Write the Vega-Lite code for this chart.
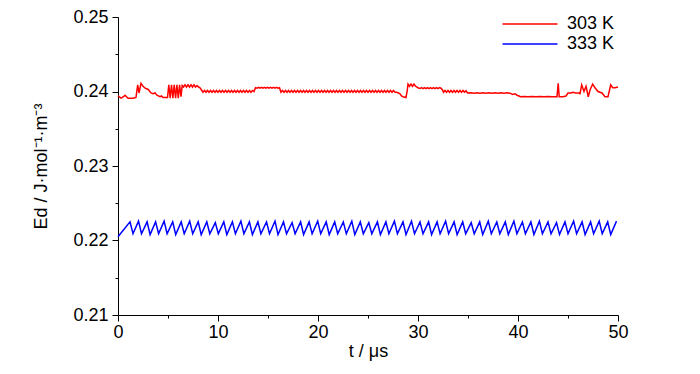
{
  "$schema": "https://vega.github.io/schema/vega-lite/v6.json",
  "width": 500,
  "height": 298,
  "autosize": {"type": "none"},
  "padding": {"left": 118, "top": 17, "right": 82, "bottom": 59},
  "background": "white",
  "config": {
    "view": {"stroke": null},
    "font": "Liberation Sans",
    "axis": {"grid": false, "domainColor": "black", "tickColor": "black", "labelColor": "black", "titleColor": "black", "labelFont": "Liberation Sans", "titleFont": "Liberation Sans", "labelFontSize": 18, "titleFontSize": 18, "titleFontWeight": "normal", "domainWidth": 1, "tickWidth": 1}
  },
  "data": {"values": [
    {"s":"303 K","t":0.00,"e":0.2394},{"s":"303 K","t":0.30,"e":0.2391},{"s":"303 K","t":0.55,"e":0.2393},{"s":"303 K","t":0.70,"e":0.2395},{"s":"303 K","t":1.00,"e":0.2391},{"s":"303 K","t":1.50,"e":0.2391},{"s":"303 K","t":1.80,"e":0.2392},{"s":"303 K","t":1.97,"e":0.2409},{"s":"303 K","t":2.10,"e":0.2398},{"s":"303 K","t":2.30,"e":0.2411},{"s":"303 K","t":2.50,"e":0.2407},{"s":"303 K","t":2.77,"e":0.2404},{"s":"303 K","t":3.00,"e":0.2403},{"s":"303 K","t":3.30,"e":0.2398},{"s":"303 K","t":3.50,"e":0.2397},{"s":"303 K","t":3.70,"e":0.2398},{"s":"303 K","t":3.90,"e":0.2395},{"s":"303 K","t":4.20,"e":0.2393},{"s":"303 K","t":4.35,"e":0.2394},{"s":"303 K","t":4.50,"e":0.2392},{"s":"303 K","t":4.87,"e":0.2392},
    {"s":"303 K","t":4.95,"e":0.2392},{"s":"303 K","t":5.08,"e":0.2409},{"s":"303 K","t":5.22,"e":0.2391},{"s":"303 K","t":5.35,"e":0.2409},{"s":"303 K","t":5.49,"e":0.2391},{"s":"303 K","t":5.62,"e":0.2409},{"s":"303 K","t":5.76,"e":0.2391},{"s":"303 K","t":5.89,"e":0.2409},{"s":"303 K","t":6.03,"e":0.2391},{"s":"303 K","t":6.16,"e":0.2409},{"s":"303 K","t":6.30,"e":0.2393},{"s":"303 K","t":6.42,"e":0.2408},
    {"s":"303 K","t":6.55,"e":0.2406},{"s":"303 K","t":6.70,"e":0.2409},{"s":"303 K","t":6.85,"e":0.2406},{"s":"303 K","t":7.00,"e":0.2409},{"s":"303 K","t":7.15,"e":0.2406},{"s":"303 K","t":7.30,"e":0.2409},{"s":"303 K","t":7.45,"e":0.2406},{"s":"303 K","t":7.60,"e":0.2409},{"s":"303 K","t":7.75,"e":0.2406},{"s":"303 K","t":7.90,"e":0.2408},{"s":"303 K","t":8.05,"e":0.2406},{"s":"303 K","t":8.20,"e":0.2405},{"s":"303 K","t":8.35,"e":0.2402},
    {"s":"303 K","t":8.50,"e":0.2399},{"s":"303 K","t":8.65,"e":0.24014},{"s":"303 K","t":8.80,"e":0.2399},{"s":"303 K","t":8.95,"e":0.24014},{"s":"303 K","t":9.10,"e":0.2399},{"s":"303 K","t":9.25,"e":0.24014},{"s":"303 K","t":9.40,"e":0.2399},{"s":"303 K","t":9.55,"e":0.24014},{"s":"303 K","t":9.70,"e":0.2399},{"s":"303 K","t":9.85,"e":0.24014},{"s":"303 K","t":10.00,"e":0.2399},{"s":"303 K","t":10.15,"e":0.24014},{"s":"303 K","t":10.30,"e":0.2399},{"s":"303 K","t":10.45,"e":0.24014},{"s":"303 K","t":10.60,"e":0.2399},{"s":"303 K","t":10.75,"e":0.24014},{"s":"303 K","t":10.90,"e":0.2399},{"s":"303 K","t":11.05,"e":0.24014},{"s":"303 K","t":11.20,"e":0.2399},{"s":"303 K","t":11.35,"e":0.24014},{"s":"303 K","t":11.50,"e":0.2399},{"s":"303 K","t":11.65,"e":0.24014},{"s":"303 K","t":11.80,"e":0.2399},{"s":"303 K","t":11.95,"e":0.24014},{"s":"303 K","t":12.10,"e":0.2399},{"s":"303 K","t":12.25,"e":0.24014},{"s":"303 K","t":12.40,"e":0.2399},{"s":"303 K","t":12.55,"e":0.24014},{"s":"303 K","t":12.70,"e":0.2399},{"s":"303 K","t":12.85,"e":0.24014},{"s":"303 K","t":13.00,"e":0.2399},{"s":"303 K","t":13.15,"e":0.24014},{"s":"303 K","t":13.30,"e":0.2399},{"s":"303 K","t":13.45,"e":0.24014},{"s":"303 K","t":13.60,"e":0.2400},
    {"s":"303 K","t":13.75,"e":0.24050},{"s":"303 K","t":13.90,"e":0.24044},{"s":"303 K","t":14.05,"e":0.24056},{"s":"303 K","t":14.20,"e":0.24044},{"s":"303 K","t":14.35,"e":0.24056},{"s":"303 K","t":14.50,"e":0.24044},{"s":"303 K","t":14.65,"e":0.24056},{"s":"303 K","t":14.80,"e":0.24044},{"s":"303 K","t":14.95,"e":0.24056},{"s":"303 K","t":15.10,"e":0.24044},{"s":"303 K","t":15.25,"e":0.24056},{"s":"303 K","t":15.40,"e":0.24044},{"s":"303 K","t":15.55,"e":0.24056},{"s":"303 K","t":15.70,"e":0.24044},{"s":"303 K","t":15.85,"e":0.24056},{"s":"303 K","t":16.00,"e":0.24044},{"s":"303 K","t":16.15,"e":0.24050},
    {"s":"303 K","t":16.30,"e":0.2399},{"s":"303 K","t":16.45,"e":0.24014},{"s":"303 K","t":16.60,"e":0.2399},{"s":"303 K","t":16.75,"e":0.24014},{"s":"303 K","t":16.90,"e":0.2399},{"s":"303 K","t":17.05,"e":0.24014},{"s":"303 K","t":17.20,"e":0.2399},{"s":"303 K","t":17.35,"e":0.24014},{"s":"303 K","t":17.50,"e":0.2399},{"s":"303 K","t":17.65,"e":0.24014},{"s":"303 K","t":17.80,"e":0.2399},{"s":"303 K","t":17.95,"e":0.24014},{"s":"303 K","t":18.10,"e":0.2399},{"s":"303 K","t":18.25,"e":0.24014},{"s":"303 K","t":18.40,"e":0.2399},{"s":"303 K","t":18.55,"e":0.24014},{"s":"303 K","t":18.70,"e":0.2399},{"s":"303 K","t":18.85,"e":0.24014},{"s":"303 K","t":19.00,"e":0.2399},{"s":"303 K","t":19.15,"e":0.24014},{"s":"303 K","t":19.30,"e":0.2399},{"s":"303 K","t":19.45,"e":0.24014},{"s":"303 K","t":19.60,"e":0.2399},{"s":"303 K","t":19.75,"e":0.24014},{"s":"303 K","t":19.90,"e":0.2399},{"s":"303 K","t":20.05,"e":0.24014},{"s":"303 K","t":20.20,"e":0.2399},{"s":"303 K","t":20.35,"e":0.24014},{"s":"303 K","t":20.50,"e":0.2399},{"s":"303 K","t":20.65,"e":0.24014},{"s":"303 K","t":20.80,"e":0.2399},{"s":"303 K","t":20.95,"e":0.24014},{"s":"303 K","t":21.10,"e":0.2399},{"s":"303 K","t":21.25,"e":0.24014},{"s":"303 K","t":21.40,"e":0.2399},{"s":"303 K","t":21.55,"e":0.24014},{"s":"303 K","t":21.70,"e":0.2399},{"s":"303 K","t":21.85,"e":0.24014},{"s":"303 K","t":22.00,"e":0.2399},{"s":"303 K","t":22.15,"e":0.24014},{"s":"303 K","t":22.30,"e":0.2399},{"s":"303 K","t":22.45,"e":0.24014},{"s":"303 K","t":22.60,"e":0.2399},{"s":"303 K","t":22.75,"e":0.24014},{"s":"303 K","t":22.90,"e":0.2399},{"s":"303 K","t":23.05,"e":0.24014},{"s":"303 K","t":23.20,"e":0.2399},{"s":"303 K","t":23.35,"e":0.24014},{"s":"303 K","t":23.50,"e":0.2399},{"s":"303 K","t":23.65,"e":0.24014},{"s":"303 K","t":23.80,"e":0.2399},{"s":"303 K","t":23.95,"e":0.24014},{"s":"303 K","t":24.10,"e":0.2399},{"s":"303 K","t":24.25,"e":0.24014},{"s":"303 K","t":24.40,"e":0.2399},{"s":"303 K","t":24.55,"e":0.24014},{"s":"303 K","t":24.70,"e":0.2399},{"s":"303 K","t":24.85,"e":0.24014},{"s":"303 K","t":25.00,"e":0.2399},{"s":"303 K","t":25.15,"e":0.24014},{"s":"303 K","t":25.30,"e":0.2399},{"s":"303 K","t":25.45,"e":0.24014},{"s":"303 K","t":25.60,"e":0.2399},{"s":"303 K","t":25.75,"e":0.24014},{"s":"303 K","t":25.90,"e":0.2399},{"s":"303 K","t":26.05,"e":0.24014},{"s":"303 K","t":26.20,"e":0.2399},{"s":"303 K","t":26.35,"e":0.24014},{"s":"303 K","t":26.50,"e":0.2399},{"s":"303 K","t":26.65,"e":0.24014},{"s":"303 K","t":26.80,"e":0.2399},{"s":"303 K","t":26.95,"e":0.24014},{"s":"303 K","t":27.10,"e":0.2399},{"s":"303 K","t":27.25,"e":0.24014},{"s":"303 K","t":27.40,"e":0.2399},{"s":"303 K","t":27.55,"e":0.24014},{"s":"303 K","t":27.70,"e":0.2399},
    {"s":"303 K","t":27.85,"e":0.2399},{"s":"303 K","t":28.05,"e":0.2398},{"s":"303 K","t":28.20,"e":0.2397},{"s":"303 K","t":28.35,"e":0.2394},{"s":"303 K","t":28.50,"e":0.2393},{"s":"303 K","t":28.80,"e":0.2392},{"s":"303 K","t":28.92,"e":0.2401},{"s":"303 K","t":29.00,"e":0.2410},{"s":"303 K","t":29.15,"e":0.2407},{"s":"303 K","t":29.30,"e":0.2410},{"s":"303 K","t":29.45,"e":0.2407},{"s":"303 K","t":29.60,"e":0.2410},{"s":"303 K","t":29.75,"e":0.2407},{"s":"303 K","t":29.90,"e":0.2406},
    {"s":"303 K","t":30.05,"e":0.24046},{"s":"303 K","t":30.20,"e":0.24040},{"s":"303 K","t":30.35,"e":0.24052},{"s":"303 K","t":30.50,"e":0.24040},{"s":"303 K","t":30.65,"e":0.24052},{"s":"303 K","t":30.80,"e":0.24040},{"s":"303 K","t":30.95,"e":0.24052},{"s":"303 K","t":31.10,"e":0.24040},{"s":"303 K","t":31.25,"e":0.24052},{"s":"303 K","t":31.40,"e":0.24040},{"s":"303 K","t":31.55,"e":0.24052},{"s":"303 K","t":31.70,"e":0.24040},{"s":"303 K","t":31.85,"e":0.24052},{"s":"303 K","t":32.00,"e":0.24040},{"s":"303 K","t":32.15,"e":0.24052},{"s":"303 K","t":32.30,"e":0.24044},{"s":"303 K","t":32.45,"e":0.2402},
    {"s":"303 K","t":32.55,"e":0.2399},{"s":"303 K","t":32.70,"e":0.24014},{"s":"303 K","t":32.85,"e":0.2399},{"s":"303 K","t":33.00,"e":0.24014},{"s":"303 K","t":33.15,"e":0.2399},{"s":"303 K","t":33.30,"e":0.24014},{"s":"303 K","t":33.45,"e":0.2399},{"s":"303 K","t":33.60,"e":0.24014},{"s":"303 K","t":33.75,"e":0.2399},{"s":"303 K","t":33.90,"e":0.24014},{"s":"303 K","t":34.05,"e":0.2399},{"s":"303 K","t":34.20,"e":0.24014},{"s":"303 K","t":34.35,"e":0.2399},{"s":"303 K","t":34.50,"e":0.24014},{"s":"303 K","t":34.65,"e":0.2399},{"s":"303 K","t":34.80,"e":0.24010},{"s":"303 K","t":34.95,"e":0.2398},
    {"s":"303 K","t":35.30,"e":0.23983},{"s":"303 K","t":35.60,"e":0.23977},{"s":"303 K","t":35.90,"e":0.23983},{"s":"303 K","t":36.20,"e":0.23977},{"s":"303 K","t":36.50,"e":0.23983},{"s":"303 K","t":36.80,"e":0.23977},{"s":"303 K","t":37.10,"e":0.23983},{"s":"303 K","t":37.40,"e":0.23977},{"s":"303 K","t":37.70,"e":0.23983},{"s":"303 K","t":38.00,"e":0.23977},{"s":"303 K","t":38.30,"e":0.23983},{"s":"303 K","t":38.60,"e":0.23977},{"s":"303 K","t":38.90,"e":0.23983},{"s":"303 K","t":39.20,"e":0.23978},
    {"s":"303 K","t":39.45,"e":0.2396},{"s":"303 K","t":39.70,"e":0.2397},{"s":"303 K","t":39.90,"e":0.2395},{"s":"303 K","t":40.10,"e":0.2394},{"s":"303 K","t":40.25,"e":0.2393},
    {"s":"303 K","t":40.60,"e":0.23932},{"s":"303 K","t":41.00,"e":0.23928},{"s":"303 K","t":41.40,"e":0.23932},{"s":"303 K","t":41.80,"e":0.23928},{"s":"303 K","t":42.20,"e":0.23932},{"s":"303 K","t":42.60,"e":0.23928},{"s":"303 K","t":43.00,"e":0.23932},{"s":"303 K","t":43.40,"e":0.23928},{"s":"303 K","t":43.90,"e":0.2393},
    {"s":"303 K","t":44.02,"e":0.2411},{"s":"303 K","t":44.12,"e":0.2393},{"s":"303 K","t":44.50,"e":0.2393},{"s":"303 K","t":44.80,"e":0.2394},{"s":"303 K","t":45.00,"e":0.2398},{"s":"303 K","t":45.30,"e":0.2398},{"s":"303 K","t":45.50,"e":0.2399},{"s":"303 K","t":45.75,"e":0.2398},{"s":"303 K","t":46.05,"e":0.2398},{"s":"303 K","t":46.20,"e":0.2397},{"s":"303 K","t":46.37,"e":0.2409},{"s":"303 K","t":46.60,"e":0.2400},{"s":"303 K","t":46.80,"e":0.2407},{"s":"303 K","t":47.03,"e":0.2393},{"s":"303 K","t":47.20,"e":0.2402},{"s":"303 K","t":47.47,"e":0.2410},{"s":"303 K","t":47.70,"e":0.2405},{"s":"303 K","t":48.00,"e":0.2400},{"s":"303 K","t":48.40,"e":0.2398},{"s":"303 K","t":48.70,"e":0.2393},{"s":"303 K","t":49.00,"e":0.2393},{"s":"303 K","t":49.27,"e":0.2409},{"s":"303 K","t":49.47,"e":0.2405},{"s":"303 K","t":49.70,"e":0.2405},{"s":"303 K","t":50.00,"e":0.2406},
    {"s":"333 K","t":0.00,"e":0.2205},{"s":"333 K","t":1.20,"e":0.2225},{"s":"333 K","t":1.50,"e":0.2209},{"s":"333 K","t":2.05,"e":0.2226},{"s":"333 K","t":2.35,"e":0.2209},{"s":"333 K","t":2.91,"e":0.2225},{"s":"333 K","t":3.21,"e":0.2208},{"s":"333 K","t":3.76,"e":0.2225},{"s":"333 K","t":4.06,"e":0.2209},{"s":"333 K","t":4.61,"e":0.2226},{"s":"333 K","t":4.91,"e":0.2209},{"s":"333 K","t":5.47,"e":0.2225},{"s":"333 K","t":5.77,"e":0.2208},{"s":"333 K","t":6.32,"e":0.2225},{"s":"333 K","t":6.62,"e":0.2209},{"s":"333 K","t":7.17,"e":0.2226},{"s":"333 K","t":7.47,"e":0.2209},{"s":"333 K","t":8.02,"e":0.2225},{"s":"333 K","t":8.32,"e":0.2208},{"s":"333 K","t":8.88,"e":0.2225},{"s":"333 K","t":9.18,"e":0.2209},{"s":"333 K","t":9.73,"e":0.2224},{"s":"333 K","t":10.03,"e":0.2209},{"s":"333 K","t":10.58,"e":0.2225},{"s":"333 K","t":10.88,"e":0.2208},{"s":"333 K","t":11.44,"e":0.2225},{"s":"333 K","t":11.74,"e":0.2209},{"s":"333 K","t":12.29,"e":0.2226},{"s":"333 K","t":12.59,"e":0.2209},{"s":"333 K","t":13.14,"e":0.2225},{"s":"333 K","t":13.44,"e":0.2208},{"s":"333 K","t":13.99,"e":0.2225},{"s":"333 K","t":14.29,"e":0.2209},{"s":"333 K","t":14.85,"e":0.2225},{"s":"333 K","t":15.15,"e":0.2209},{"s":"333 K","t":15.70,"e":0.2226},{"s":"333 K","t":16.00,"e":0.2208},{"s":"333 K","t":16.55,"e":0.2225},{"s":"333 K","t":16.85,"e":0.2209},{"s":"333 K","t":17.41,"e":0.2224},{"s":"333 K","t":17.71,"e":0.2209},{"s":"333 K","t":18.26,"e":0.2225},{"s":"333 K","t":18.56,"e":0.2208},{"s":"333 K","t":19.11,"e":0.2225},{"s":"333 K","t":19.41,"e":0.2209},{"s":"333 K","t":19.97,"e":0.2226},{"s":"333 K","t":20.27,"e":0.2209},{"s":"333 K","t":20.82,"e":0.2225},{"s":"333 K","t":21.12,"e":0.2208},{"s":"333 K","t":21.67,"e":0.2225},{"s":"333 K","t":21.97,"e":0.2209},{"s":"333 K","t":22.53,"e":0.2225},{"s":"333 K","t":22.83,"e":0.2209},{"s":"333 K","t":23.38,"e":0.2226},{"s":"333 K","t":23.68,"e":0.2208},{"s":"333 K","t":24.23,"e":0.2225},{"s":"333 K","t":24.53,"e":0.2209},{"s":"333 K","t":25.08,"e":0.2224},{"s":"333 K","t":25.38,"e":0.2209},{"s":"333 K","t":25.94,"e":0.2225},{"s":"333 K","t":26.24,"e":0.2208},{"s":"333 K","t":26.79,"e":0.2225},{"s":"333 K","t":27.09,"e":0.2209},{"s":"333 K","t":27.64,"e":0.2226},{"s":"333 K","t":27.94,"e":0.2209},{"s":"333 K","t":28.50,"e":0.2225},{"s":"333 K","t":28.80,"e":0.2208},{"s":"333 K","t":29.35,"e":0.2226},{"s":"333 K","t":29.65,"e":0.2209},{"s":"333 K","t":30.20,"e":0.2225},{"s":"333 K","t":30.50,"e":0.2209},{"s":"333 K","t":31.06,"e":0.2225},{"s":"333 K","t":31.36,"e":0.2208},{"s":"333 K","t":31.91,"e":0.2225},{"s":"333 K","t":32.21,"e":0.2209},{"s":"333 K","t":32.76,"e":0.2226},{"s":"333 K","t":33.06,"e":0.2209},{"s":"333 K","t":33.61,"e":0.2225},{"s":"333 K","t":33.91,"e":0.2208},{"s":"333 K","t":34.47,"e":0.2225},{"s":"333 K","t":34.77,"e":0.2209},{"s":"333 K","t":35.32,"e":0.2224},{"s":"333 K","t":35.62,"e":0.2209},{"s":"333 K","t":36.17,"e":0.2225},{"s":"333 K","t":36.47,"e":0.2208},{"s":"333 K","t":37.03,"e":0.2226},{"s":"333 K","t":37.33,"e":0.2209},{"s":"333 K","t":37.88,"e":0.2225},{"s":"333 K","t":38.18,"e":0.2209},{"s":"333 K","t":38.73,"e":0.2225},{"s":"333 K","t":39.03,"e":0.2208},{"s":"333 K","t":39.59,"e":0.2226},{"s":"333 K","t":39.89,"e":0.2209},{"s":"333 K","t":40.44,"e":0.2225},{"s":"333 K","t":40.74,"e":0.2209},{"s":"333 K","t":41.29,"e":0.2225},{"s":"333 K","t":41.59,"e":0.2208},{"s":"333 K","t":42.14,"e":0.2226},{"s":"333 K","t":42.44,"e":0.2209},{"s":"333 K","t":43.00,"e":0.2225},{"s":"333 K","t":43.30,"e":0.2209},{"s":"333 K","t":43.85,"e":0.2224},{"s":"333 K","t":44.15,"e":0.2208},{"s":"333 K","t":44.70,"e":0.2225},{"s":"333 K","t":45.00,"e":0.2209},{"s":"333 K","t":45.56,"e":0.2226},{"s":"333 K","t":45.86,"e":0.2209},{"s":"333 K","t":46.41,"e":0.2225},{"s":"333 K","t":46.71,"e":0.2208},{"s":"333 K","t":47.26,"e":0.2225},{"s":"333 K","t":47.56,"e":0.2209},{"s":"333 K","t":48.12,"e":0.2226},{"s":"333 K","t":48.42,"e":0.2209},{"s":"333 K","t":48.97,"e":0.2225},{"s":"333 K","t":49.27,"e":0.2208},{"s":"333 K","t":49.85,"e":0.2226}
  ]},
  "mark": {"type": "line", "strokeWidth": 1.5, "clip": false},
  "encoding": {
    "x": {"field": "t", "type": "quantitative", "scale": {"domain": [0, 50], "nice": false, "zero": false},
      "axis": {"title": "t / μs", "values": [0,5,10,15,20,25,30,35,40,45,50], "labelExpr": "datum.value % 10 == 0 ? datum.label : ''", "tickSize": {"condition": {"test": "datum.value % 10 != 0", "value": 3}, "value": 6}, "labelPadding": 2, "titlePadding": 1, "labelFlush": false}},
    "y": {"field": "e", "type": "quantitative", "scale": {"domain": [0.21, 0.25], "nice": false, "zero": false},
      "axis": {"title": "Ed / J·mol⁻¹·m⁻³", "values": [0.21,0.215,0.22,0.225,0.23,0.235,0.24,0.245,0.25], "labelExpr": "round(datum.value*1000) % 10 == 0 ? format(datum.value, '.2f') : ''", "tickSize": {"condition": {"test": "round(datum.value*1000) % 10 != 0", "value": 3}, "value": 6}, "labelPadding": 4, "titlePadding": 22, "labelFlush": false}},
    "color": {"field": "s", "type": "nominal", "scale": {"domain": ["303 K", "333 K"], "range": ["#ff0000", "#0000ff"]},
      "legend": {"title": null, "orient": "none", "legendX": 403, "legendY": -2, "symbolType": "M-5,0H5", "symbolSize": 121, "symbolStrokeWidth": 1.5, "labelFontSize": 18, "labelFont": "Liberation Sans", "labelColor": "black", "labelOffset": 28, "rowPadding": 2, "padding": 0}}
  }
}
